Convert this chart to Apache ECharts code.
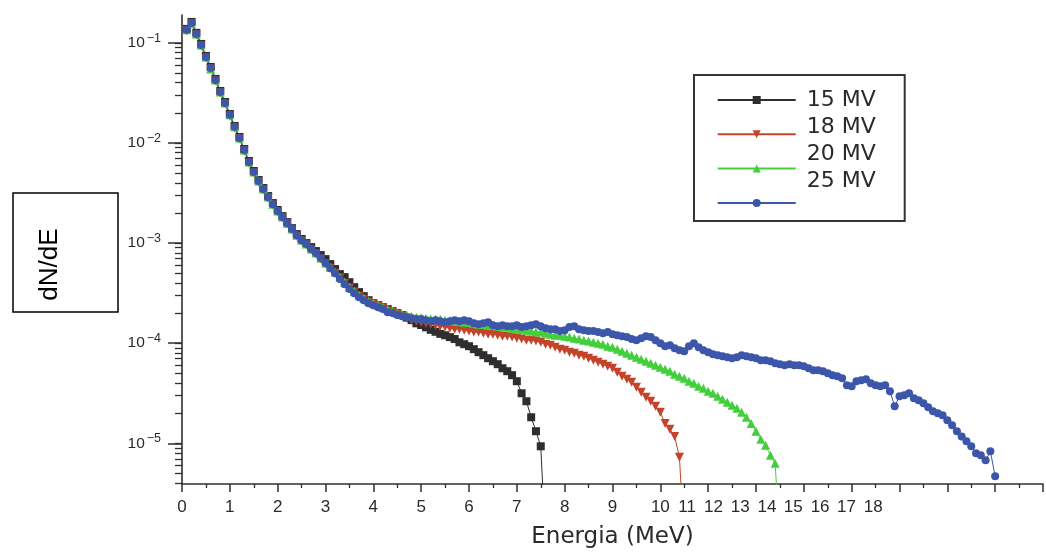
<!DOCTYPE html>
<html>
<head>
<meta charset="utf-8">
<script src="https://cdn.jsdelivr.net/npm/echarts@6/dist/echarts.min.js"></script>
<style>
  html, body { margin: 0; padding: 0; background: #ffffff; }
  #chart { width: 1046px; height: 557px; }
</style>
</head>
<body>
<div id="chart"></div>
<script>
// Energy bins (MeV) shared by the four photon spectra
const energyMeV = [
  0.1,0.2,0.3,0.4,0.5,0.6,0.7,0.8,0.9,1.0,
  1.1,1.2,1.3,1.4,1.5,1.6,1.7,1.8,1.9,2.0,
  2.1,2.2,2.3,2.4,2.5,2.6,2.7,2.8,2.9,3.0,
  3.1,3.2,3.3,3.4,3.5,3.6,3.7,3.8,3.9,4.0,
  4.1,4.2,4.3,4.4,4.5,4.6,4.7,4.8,4.9,5.0,
  5.1,5.2,5.3,5.4,5.5,5.6,5.7,5.8,5.9,6.0,
  6.1,6.2,6.3,6.4,6.5,6.6,6.7,6.8,6.9,7.0,
  7.1,7.2,7.3,7.4,7.5,7.6,7.7,7.8,7.9,8.0,
  8.1,8.2,8.3,8.4,8.5,8.6,8.7,8.8,8.9,9.0,
  9.1,9.2,9.3,9.4,9.5,9.6,9.7,9.8,9.9,10.0,
  10.1,10.2,10.3,10.4,10.5,10.6,10.7,10.8,10.9,11.0,
  11.1,11.2,11.3,11.4,11.5,11.6,11.7,11.8,11.9,12.0,
  12.1,12.2,12.3,12.4,12.5,12.6,12.7,12.8,12.9,13.0,
  13.1,13.2,13.3,13.4,13.5,13.6,13.7,13.8,13.9,14.0,
  14.1,14.2,14.3,14.4,14.5,14.6,14.7,14.8,14.9,15.0,
  15.1,15.2,15.3,15.4,15.5,15.6,15.7,15.8,15.9,16.0,
  16.1,16.2,16.3,16.4,16.5,16.6,16.7,16.8,16.9,17.0
];

// dN/dE per bin; the last entry of the 15, 18 and 20 MV spectra falls below the axis floor
const spectrum15MV = [
  1.38e-1,1.62e-1,1.26e-1,9.77e-2,7.41e-2,5.75e-2,4.37e-2,3.31e-2,2.57e-2,1.95e-2,
  1.48e-2,1.15e-2,8.71e-3,6.61e-3,5.25e-3,4.27e-3,3.55e-3,2.95e-3,2.51e-3,2.14e-3,
  1.86e-3,1.62e-3,1.41e-3,1.23e-3,1.10e-3,1.00e-3,9.12e-4,8.32e-4,7.59e-4,6.92e-4,
  6.17e-4,5.50e-4,4.90e-4,4.57e-4,4.07e-4,3.63e-4,3.24e-4,2.95e-4,2.69e-4,2.51e-4,
  2.40e-4,2.29e-4,2.19e-4,2.09e-4,2.00e-4,1.91e-4,1.80e-4,1.70e-4,1.58e-4,1.52e-4,
  1.44e-4,1.36e-4,1.30e-4,1.24e-4,1.20e-4,1.15e-4,1.10e-4,1.02e-4,9.77e-5,9.33e-5,
  8.71e-5,8.13e-5,7.59e-5,7.08e-5,6.61e-5,6.17e-5,5.62e-5,5.25e-5,4.79e-5,4.17e-5,
  3.16e-5,2.63e-5,1.82e-5,1.32e-5,9.33e-6,1.0e-6
];

const spectrum18MV = [
  1.32e-1,1.55e-1,1.20e-1,9.33e-2,7.08e-2,5.50e-2,4.17e-2,3.16e-2,2.45e-2,1.86e-2,
  1.41e-2,1.10e-2,8.32e-3,6.31e-3,5.01e-3,4.07e-3,3.39e-3,2.82e-3,2.40e-3,2.04e-3,
  1.78e-3,1.55e-3,1.35e-3,1.17e-3,1.05e-3,9.55e-4,8.51e-4,7.76e-4,6.92e-4,6.17e-4,
  5.62e-4,5.01e-4,4.47e-4,3.98e-4,3.55e-4,3.24e-4,2.95e-4,2.75e-4,2.57e-4,2.45e-4,
  2.34e-4,2.24e-4,2.09e-4,2.04e-4,1.95e-4,1.86e-4,1.78e-4,1.70e-4,1.66e-4,1.62e-4,
  1.58e-4,1.55e-4,1.51e-4,1.48e-4,1.45e-4,1.41e-4,1.38e-4,1.38e-4,1.35e-4,1.32e-4,
  1.29e-4,1.29e-4,1.26e-4,1.23e-4,1.23e-4,1.20e-4,1.17e-4,1.17e-4,1.15e-4,1.12e-4,
  1.10e-4,1.07e-4,1.07e-4,1.05e-4,1.02e-4,9.77e-5,9.55e-5,9.12e-5,8.71e-5,8.51e-5,
  8.13e-5,7.94e-5,7.59e-5,7.41e-5,7.08e-5,6.76e-5,6.46e-5,6.17e-5,5.89e-5,5.62e-5,
  5.13e-5,4.68e-5,4.37e-5,4.07e-5,3.63e-5,3.24e-5,2.88e-5,2.63e-5,2.34e-5,2.04e-5,
  1.58e-5,1.38e-5,1.17e-5,7.24e-6,1.0e-6
];

const spectrum20MV = [
  1.35e-1,1.55e-1,1.23e-1,9.55e-2,7.24e-2,5.50e-2,4.27e-2,3.24e-2,2.51e-2,1.91e-2,
  1.45e-2,1.12e-2,8.51e-3,6.46e-3,5.13e-3,4.17e-3,3.47e-3,2.88e-3,2.45e-3,2.09e-3,
  1.82e-3,1.58e-3,1.38e-3,1.20e-3,1.07e-3,9.77e-4,8.71e-4,7.94e-4,7.08e-4,6.31e-4,
  5.75e-4,5.13e-4,4.57e-4,4.07e-4,3.63e-4,3.31e-4,3.02e-4,2.82e-4,2.63e-4,2.51e-4,
  2.40e-4,2.29e-4,2.19e-4,2.09e-4,2.00e-4,1.95e-4,1.91e-4,1.86e-4,1.82e-4,1.80e-4,
  1.78e-4,1.75e-4,1.74e-4,1.73e-4,1.70e-4,1.69e-4,1.66e-4,1.65e-4,1.62e-4,1.61e-4,
  1.58e-4,1.55e-4,1.55e-4,1.51e-4,1.51e-4,1.48e-4,1.45e-4,1.45e-4,1.41e-4,1.38e-4,
  1.38e-4,1.35e-4,1.32e-4,1.30e-4,1.29e-4,1.26e-4,1.23e-4,1.20e-4,1.20e-4,1.17e-4,
  1.15e-4,1.12e-4,1.10e-4,1.07e-4,1.05e-4,1.02e-4,1.00e-4,9.77e-5,9.33e-5,9.12e-5,
  8.71e-5,8.32e-5,7.94e-5,7.59e-5,7.24e-5,6.92e-5,6.61e-5,6.31e-5,6.03e-5,5.75e-5,
  5.50e-5,5.25e-5,4.90e-5,4.68e-5,4.47e-5,4.17e-5,3.98e-5,3.72e-5,3.55e-5,3.31e-5,
  3.16e-5,2.95e-5,2.75e-5,2.57e-5,2.40e-5,2.24e-5,2.04e-5,1.82e-5,1.58e-5,1.32e-5,
  1.10e-5,9.55e-6,7.59e-6,6.31e-6,1.0e-6
];

const spectrum25MV = [
  1.35e-1,1.58e-1,1.23e-1,9.55e-2,7.24e-2,5.62e-2,4.27e-2,3.24e-2,2.51e-2,1.91e-2,
  1.45e-2,1.12e-2,8.51e-3,6.46e-3,5.13e-3,4.17e-3,3.47e-3,2.88e-3,2.45e-3,2.09e-3,
  1.82e-3,1.58e-3,1.38e-3,1.20e-3,1.07e-3,9.77e-4,8.71e-4,7.94e-4,7.08e-4,6.31e-4,
  5.62e-4,5.01e-4,4.37e-4,3.89e-4,3.47e-4,3.16e-4,2.88e-4,2.69e-4,2.51e-4,2.40e-4,
  2.29e-4,2.19e-4,2.04e-4,2.00e-4,1.91e-4,1.86e-4,1.82e-4,1.78e-4,1.74e-4,1.74e-4,
  1.70e-4,1.66e-4,1.70e-4,1.66e-4,1.62e-4,1.66e-4,1.70e-4,1.66e-4,1.70e-4,1.66e-4,
  1.58e-4,1.55e-4,1.58e-4,1.62e-4,1.51e-4,1.48e-4,1.51e-4,1.48e-4,1.48e-4,1.51e-4,
  1.45e-4,1.48e-4,1.51e-4,1.55e-4,1.48e-4,1.41e-4,1.38e-4,1.38e-4,1.32e-4,1.35e-4,
  1.45e-4,1.48e-4,1.38e-4,1.35e-4,1.32e-4,1.32e-4,1.29e-4,1.26e-4,1.29e-4,1.23e-4,
  1.20e-4,1.17e-4,1.15e-4,1.10e-4,1.07e-4,1.12e-4,1.17e-4,1.15e-4,1.07e-4,1.00e-4,
  9.33e-5,9.55e-5,8.91e-5,8.51e-5,8.32e-5,9.33e-5,1.00e-4,9.12e-5,8.51e-5,8.13e-5,
  7.76e-5,7.59e-5,7.41e-5,7.24e-5,7.08e-5,7.24e-5,7.59e-5,7.41e-5,7.24e-5,7.08e-5,
  6.76e-5,6.76e-5,6.61e-5,6.31e-5,6.17e-5,6.03e-5,6.17e-5,6.03e-5,6.03e-5,5.89e-5,
  5.62e-5,5.37e-5,5.37e-5,5.25e-5,5.01e-5,4.79e-5,4.68e-5,4.47e-5,3.80e-5,3.72e-5,
  4.17e-5,4.27e-5,4.37e-5,3.98e-5,3.80e-5,3.72e-5,3.80e-5,3.31e-5,2.34e-5,2.95e-5,
  3.02e-5,3.16e-5,2.82e-5,2.69e-5,2.51e-5,2.29e-5,2.09e-5,2.00e-5,1.91e-5,1.70e-5,
  1.51e-5,1.32e-5,1.17e-5,1.05e-5,9.33e-6,7.94e-6,7.59e-6,6.76e-6,8.32e-6,4.68e-6
];

const seriesNames = ['15 MV', '18 MV', '20 MV', '25 MV'];

// x axis: ticks every MeV; the printed labels 11–18 sit squeezed after "10"
const xTickLabels = ['0','1','2','3','4','5','6','7','8','9','10','11','12','13','14','15','16','17','18'];
const xLabelAt = [0,1,2,3,4,5,6,7,8,9,10,10.56,11.11,11.67,12.23,12.78,13.34,13.89,14.45];

// y axis: decades labelled 10 with a superscript exponent
const yTickValues = [1e-1, 1e-2, 1e-3, 1e-4, 1e-5];
const yTickExponents = ['\u22121', '\u22122', '\u22123', '\u22124', '\u22125'];
const Y_MIN = 3.92e-6;
const Y_MAX = 0.19;

// The y scale is logarithmic: values are placed by their base-10 logarithm
const LOG_MIN = Math.log10(Y_MIN);
const LOG_MAX = Math.log10(Y_MAX);
const yMajorPos = yTickValues.map(v => Math.log10(v));
const yAllTickPos = [];
for (let d = -6; d <= -1; d++) {
  for (let m = 1; m <= 9; m++) {
    const p = Math.log10(m * Math.pow(10, d));
    if (p > LOG_MIN && p < LOG_MAX) yAllTickPos.push(p);
  }
}

function toPoints(values) {
  return values.map((v, i) => [energyMeV[i], Math.log10(v)]);
}

const AXIS_COLOR = '#2f2f2f';
const TEXT_COLOR = '#2a2a2a';

const chart = echarts.init(document.getElementById('chart'), null, { renderer: 'canvas' });

chart.setOption({
  animation: false,
  backgroundColor: '#ffffff',
  grid: { left: 182, right: 3, top: 15, bottom: 73, containLabel: false },
  xAxis: {
    type: 'value',
    min: 0,
    max: 18,
    interval: 1,
    axisLine: { show: true, lineStyle: { color: AXIS_COLOR, width: 1.6 } },
    axisTick: { show: true, length: 8, lineStyle: { color: AXIS_COLOR, width: 1.5 } },
    minorTick: { show: true, splitNumber: 2, length: 4, lineStyle: { color: AXIS_COLOR, width: 1.3 } },
    splitLine: { show: false },
    minorSplitLine: { show: false },
    axisLabel: {
      customValues: xLabelAt,
      margin: 15,
      fontSize: 17,
      fontFamily: 'Liberation Sans',
      color: TEXT_COLOR,
      formatter: function (v) {
        const i = xLabelAt.findIndex(p => Math.abs(p - v) < 1e-6);
        return i >= 0 ? xTickLabels[i] : '';
      }
    },
    name: 'Energia (MeV)',
    nameLocation: 'middle',
    nameGap: 42,
    nameTextStyle: { fontSize: 23, fontFamily: 'DejaVu Sans', color: TEXT_COLOR }
  },
  yAxis: [
    {
      type: 'value',
      min: LOG_MIN,
      max: LOG_MAX,
      axisLine: { show: true, lineStyle: { color: AXIS_COLOR, width: 1.6 } },
      axisTick: { show: true, length: 7, customValues: yAllTickPos, lineStyle: { color: AXIS_COLOR, width: 1.3 } },
      splitLine: { show: false },
      axisLabel: {
        customValues: yMajorPos,
        margin: 21,
        formatter: function (v) {
          const i = yMajorPos.findIndex(p => Math.abs(p - v) < 1e-6);
          return i >= 0 ? '{b|10}{s|' + yTickExponents[i] + '}' : '';
        },
        rich: {
          b: { fontSize: 15.5, lineHeight: 22, fontFamily: 'Liberation Sans', color: TEXT_COLOR },
          s: { fontSize: 12.5, lineHeight: 11, verticalAlign: 'top', fontFamily: 'Liberation Sans', color: TEXT_COLOR, padding: [0, 0, 0, 2] }
        }
      }
    },
    {
      // longer ticks at each decade
      type: 'value',
      min: LOG_MIN,
      max: LOG_MAX,
      position: 'left',
      axisLine: { show: false },
      axisLabel: { show: false },
      splitLine: { show: false },
      axisTick: { show: true, length: 14, customValues: yMajorPos, lineStyle: { color: AXIS_COLOR, width: 1.5 } }
    }
  ],
  legend: [
    {
      data: seriesNames,
      orient: 'vertical',
      left: 694,
      top: 75,
      padding: [21, 104, 14, 22.7],
      itemWidth: 78,
      itemHeight: 10,
      itemGap: 26.3,
      formatter: function () { return ''; },
      textStyle: { fontSize: 8, lineHeight: 8 },
      borderColor: '#333333',
      borderWidth: 2,
      selectedMode: false,
      lineStyle: { width: 2 }
    },
    {
      data: seriesNames.map(name => ({ name: name, icon: 'none' })),
      orient: 'vertical',
      left: 801.7,
      top: 89,
      padding: 0,
      itemWidth: 0,
      itemHeight: 22,
      itemGap: 5,
      selectedMode: false,
      textStyle: { fontSize: 22, lineHeight: 22, fontFamily: 'DejaVu Sans', color: TEXT_COLOR }
    }
  ],
  graphic: [
    {
      type: 'group',
      children: [
        {
          type: 'rect',
          shape: { x: 13, y: 193, width: 105, height: 119 },
          style: { fill: '#ffffff', stroke: '#000000', lineWidth: 1.5 }
        },
        {
          type: 'text',
          x: 50,
          y: 264.5,
          rotation: Math.PI / 2,
          style: {
            text: 'dN/dE',
            fontSize: 26,
            fontFamily: 'Liberation Sans',
            fill: '#000000',
            align: 'center',
            verticalAlign: 'middle'
          }
        }
      ]
    }
  ],
  series: [
    {
      name: '15 MV',
      type: 'line',
      data: toPoints(spectrum15MV),
      symbol: 'rect',
      symbolSize: 8,
      color: '#2e2e2e',
      lineStyle: { width: 1, color: '#2e2e2e' },
      clip: true
    },
    {
      name: '18 MV',
      type: 'line',
      data: toPoints(spectrum18MV),
      symbol: 'triangle',
      symbolRotate: 180,
      symbolSize: 9,
      color: '#c4442b',
      lineStyle: { width: 1, color: '#c4442b' },
      clip: true
    },
    {
      name: '20 MV',
      type: 'line',
      data: toPoints(spectrum20MV),
      symbol: 'triangle',
      symbolSize: 9,
      color: '#42cf3b',
      lineStyle: { width: 1, color: '#42cf3b' },
      clip: true
    },
    {
      name: '25 MV',
      type: 'line',
      data: toPoints(spectrum25MV),
      symbol: 'circle',
      symbolSize: 8,
      color: '#3c56aa',
      lineStyle: { width: 1, color: '#3c56aa' },
      clip: true
    }
  ]
});
</script>
</body>
</html>
